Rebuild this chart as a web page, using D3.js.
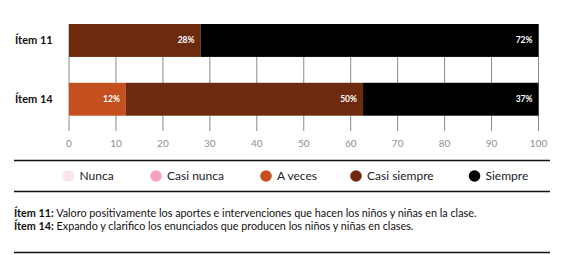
<!DOCTYPE html>
<html>
<head>
<meta charset="utf-8">
<script src="https://cdn.jsdelivr.net/npm/d3@7"></script>
<style>
  body { margin: 0; background: #fff; }
  svg { display: block; font-family: Lato, "Open Sans", sans-serif; }
</style>
</head>
<body>
<svg id="chart"></svg>
<script>
// data
let items = ["Ítem 11", "Ítem 14"]
let categories = ["Nunca", "Casi nunca", "A veces", "Casi siempre", "Siempre"]
let colors = ["#fde1ec", "#f7a2c5", "#c4501f", "#6d2a0f", "#000000"]
let item11 = [0, 0, 0, 28, 72]
let item14 = [0, 0, 12, 50, 37]
let ticks = [0, 10, 20, 30, 40, 50, 60, 70, 80, 90, 100]
let notes = [
  ["Ítem 11:", " Valoro positivamente los aportes e intervenciones que hacen los niños y niñas en la clase."],
  ["Ítem 14:", " Expando y clarifico los enunciados que producen los niños y niñas en clases."]
]

function getConfig() {
  let width = 561
  let height = 255
  let container = d3.select("#chart")
    .attr("width", width)
    .attr("height", height)
  return { width, height, container }
}

function getScales() {
  let xScale = d3.scaleLinear()
    .domain([0, 100])
    .range([69, 538.5])
  let yScale = d3.scaleBand()
    .domain(items)
    .range([24, 115.7])
    .paddingInner(0.44)
    .paddingOuter(0)
  return { xScale, yScale }
}

function drawChart() {
  let { container } = getConfig()
  let { xScale, yScale } = getScales()

  // table for d3.stack, rows normalised to 100%
  let table = items.map((it, i) => {
    let row = { item: it }
    let vals = [item11, item14][i]
    categories.forEach((c, j) => { row[c] = vals[j] })
    return row
  })
  let series = d3.stack()
    .keys(categories)
    .offset(d3.stackOffsetExpand)(table)

  // gridlines, behind the bars
  container.append("g")
    .selectAll("line")
    .data(ticks)
    .enter()
    .append("line")
      .attr("x1", d => xScale(d))
      .attr("x2", d => xScale(d))
      .attr("y1", yScale(items[0]))
      .attr("y2", 131)
      .style("stroke", "#8a8a8a")
      .style("stroke-width", 1)

  // tick labels
  container.append("g")
    .selectAll("text")
    .data(ticks)
    .enter()
    .append("text")
      .attr("x", d => xScale(d))
      .attr("y", 146.5)
      .attr("text-anchor", "middle")
      .style("font-size", "10px")
      .style("fill", "#909090")
      .text(d => d)

  // stacked bars
  let segs = []
  series.forEach((s, j) => {
    s.forEach(d => {
      let v = d.data[s.key]
      if (v > 0) segs.push({ item: d.data.item, x0: d[0] * 100, x1: d[1] * 100, v: v, color: colors[j] })
    })
  })

  container.append("g")
    .selectAll("rect")
    .data(segs)
    .enter()
    .append("rect")
      .attr("x", d => xScale(d.x0))
      .attr("y", d => yScale(d.item))
      .attr("width", d => xScale(d.x1) - xScale(d.x0))
      .attr("height", yScale.bandwidth())
      .style("fill", d => d.color)

  container.append("g")
    .selectAll("text")
    .data(segs)
    .enter()
    .append("text")
      .attr("x", d => xScale(d.x1) - 6)
      .attr("y", d => yScale(d.item) + yScale.bandwidth() / 2)
      .attr("dy", "0.35em")
      .attr("text-anchor", "end")
      .style("font-size", "8.5px")
      .style("font-weight", "bold")
      .style("fill", "#fff")
      .text(d => d.v + "%")

  // item labels
  container.append("g")
    .selectAll("text")
    .data(items)
    .enter()
    .append("text")
      .attr("x", 15)
      .attr("y", d => yScale(d) + yScale.bandwidth() / 2)
      .attr("dy", "0.35em")
      .style("font-size", "11px")
      .style("font-weight", "bold")
      .style("fill", "#111")
      .text(d => d)

  // separator lines
  let lines = [160.5, 191.5, 252.5]
  container.append("g")
    .selectAll("line")
    .data(lines)
    .enter()
    .append("line")
      .attr("x1", 14)
      .attr("x2", 550)
      .attr("y1", d => d)
      .attr("y2", d => d)
      .style("stroke", "#111")
      .style("stroke-width", 1.3)

  // legend
  let legendX = [68.5, 156, 266, 356, 474.5]
  let legend = container.append("g")
    .selectAll("g")
    .data(categories)
    .enter()
    .append("g")
      .attr("transform", (d, i) => `translate(${legendX[i]},176)`)
  legend.append("circle")
    .attr("r", 5.8)
    .style("fill", (d, i) => colors[i])
  legend.append("text")
    .attr("x", 11)
    .attr("dy", "0.35em")
    .style("font-size", "12px")
    .style("fill", "#1a1a2a")
    .text(d => d)

  // notes
  let noteY = [213.5, 226]
  notes.forEach((n, i) => {
    let t = container.append("text")
      .attr("x", 14)
      .attr("y", noteY[i])
      .attr("dy", "0.35em")
      .style("font-size", "10.8px")
      .style("fill", "#111")
    t.append("tspan").style("font-weight", "bold").text(n[0])
    t.append("tspan").text(n[1])
  })
}

drawChart()
</script>
</body>
</html>
